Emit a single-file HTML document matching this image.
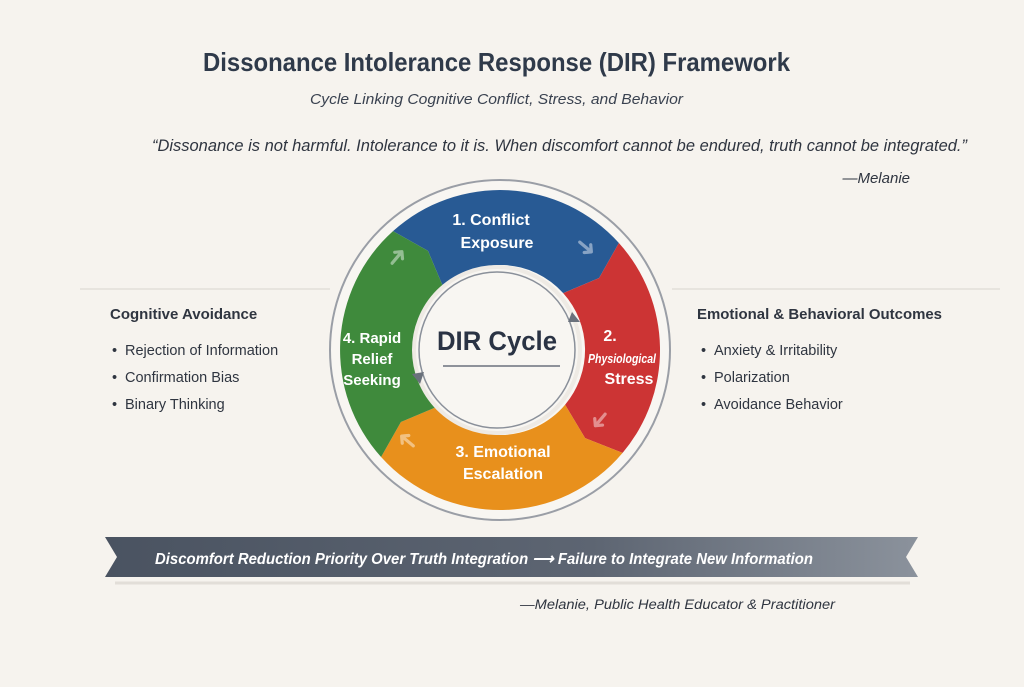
<!DOCTYPE html>
<html><head><meta charset="utf-8"><style>
body{margin:0;width:1024px;height:682px;background:#f6f3ee;overflow:hidden;font-family:"Liberation Sans",sans-serif}
</style></head><body>
<svg width="1024" height="682" viewBox="0 0 1024 682" xmlns="http://www.w3.org/2000/svg" font-family="Liberation Sans, sans-serif">
<defs>
<linearGradient id="bn" x1="0" x2="1" y1="0" y2="0"><stop offset="0" stop-color="#4a5361"/><stop offset="0.6" stop-color="#5d6572"/><stop offset="1" stop-color="#8b929c"/></linearGradient>
</defs>
<rect width="1024" height="682" fill="#f6f3ee"/>
<text x="203" y="71" font-size="26" font-weight="bold" fill="#2f3a4a" textLength="587" lengthAdjust="spacingAndGlyphs">Dissonance Intolerance Response (DIR) Framework</text>
<text x="310" y="104" font-size="15" font-style="italic" fill="#3a4250" textLength="373" lengthAdjust="spacingAndGlyphs">Cycle Linking Cognitive Conflict, Stress, and Behavior</text>
<text x="152" y="151" font-size="16.5" font-style="italic" fill="#2f3540" textLength="815" lengthAdjust="spacingAndGlyphs">“Dissonance is not harmful. Intolerance to it is. When discomfort cannot be endured, truth cannot be integrated.”</text>
<text x="910" y="183" text-anchor="end" font-size="15" font-style="italic" fill="#2f3540">—Melanie</text>
<line x1="80" y1="289" x2="330" y2="289" stroke="#d8d4ce" stroke-width="1"/>
<line x1="672" y1="289" x2="1000" y2="289" stroke="#d8d4ce" stroke-width="1"/>
<circle cx="500" cy="350" r="170" fill="#f8f6f2" stroke="#9a9ea6" stroke-width="2"/>
<path d="M393.0 231.1 A160 160 0 0 1 618.9 243.0 L599.1 278.0 L563.2 293.1 A85 85 0 0 0 443.1 286.8 L428.0 250.9 Z" fill="#285a94"/>
<path d="M618.9 243.0 A160 160 0 0 1 622.6 452.9 L585.1 438.1 L565.1 404.7 A85 85 0 0 0 563.2 293.1 L599.1 278.0 Z" fill="#cc3434"/>
<path d="M622.6 452.9 A160 160 0 0 1 381.1 457.0 L400.9 422.0 L436.8 406.9 A85 85 0 0 0 565.1 404.7 L585.1 438.1 Z" fill="#e8901c"/>
<path d="M381.1 457.0 A160 160 0 0 1 393.0 231.1 L428.0 250.9 L443.1 286.8 A85 85 0 0 0 436.8 406.9 L400.9 422.0 Z" fill="#3f8a3c"/>
<circle cx="497" cy="350" r="83" fill="#f8f6f2" stroke="#eeeae4" stroke-width="4"/>
<circle cx="497" cy="350" r="78" fill="none" stroke="#8a909a" stroke-width="1.5"/>
<polygon points="572,312 580,322 568,322" fill="#6a717c"/>
<polygon points="416,372 424,382 412,384" fill="#6a717c" transform="rotate(180 418 378)"/>
<g font-size="26" fill="#ffffff" opacity="0.45">
<text x="585" y="255" text-anchor="middle" transform="rotate(40 585 248)">➜</text>
<text x="600" y="428" text-anchor="middle" transform="rotate(130 600 420)">➜</text>
<text x="408" y="447" text-anchor="middle" transform="rotate(220 408 440)">➜</text>
<text x="398" y="265" text-anchor="middle" transform="rotate(-50 398 258)">➜</text>
</g>
<g fill="#ffffff" font-weight="bold" font-size="16" text-anchor="middle">
<text x="491" y="225">1. Conflict</text>
<text x="497" y="248">Exposure</text>
<text x="610" y="341">2.</text>
<text x="622" y="363" font-size="12.5" font-style="italic" textLength="68" lengthAdjust="spacingAndGlyphs">Physiological</text>
<text x="629" y="384">Stress</text>
<text x="503" y="457">3. Emotional</text>
<text x="503" y="479">Escalation</text>
<text x="372" y="343" font-size="15">4. Rapid</text>
<text x="372" y="364" font-size="15">Relief</text>
<text x="372" y="385" font-size="15">Seeking</text>
</g>
<text x="497" y="350" text-anchor="middle" font-size="27" font-weight="bold" fill="#2a3344" textLength="120" lengthAdjust="spacingAndGlyphs">DIR Cycle</text>
<line x1="443" y1="366" x2="560" y2="366" stroke="#6a717c" stroke-width="1.5"/>
<g fill="#2f3540" font-size="14.5">
<text x="110" y="319" font-weight="bold" font-size="15">Cognitive Avoidance</text>
<text x="112" y="355">•</text><text x="125" y="355">Rejection of Information</text>
<text x="112" y="382">•</text><text x="125" y="382">Confirmation Bias</text>
<text x="112" y="409">•</text><text x="125" y="409">Binary Thinking</text>
<text x="697" y="319" font-weight="bold" font-size="15" textLength="245" lengthAdjust="spacingAndGlyphs">Emotional &amp; Behavioral Outcomes</text>
<text x="701" y="355">•</text><text x="714" y="355">Anxiety &amp; Irritability</text>
<text x="701" y="382">•</text><text x="714" y="382">Polarization</text>
<text x="701" y="409">•</text><text x="714" y="409">Avoidance Behavior</text>
</g>
<line x1="115" y1="583" x2="910" y2="583" stroke="#e2ded8" stroke-width="3"/>
<polygon points="105,537 918,537 906,557 918,577 105,577 117,557" fill="url(#bn)"/>
<text x="155" y="564" font-size="16" font-weight="bold" font-style="italic" fill="#ffffff" textLength="658" lengthAdjust="spacingAndGlyphs">Discomfort Reduction Priority Over Truth Integration ⟶ Failure to Integrate New Information</text>
<text x="835" y="609" text-anchor="end" font-size="13.5" font-style="italic" fill="#2f3540" textLength="315" lengthAdjust="spacingAndGlyphs">—Melanie, Public Health Educator &amp; Practitioner</text>
</svg>
</body></html>
